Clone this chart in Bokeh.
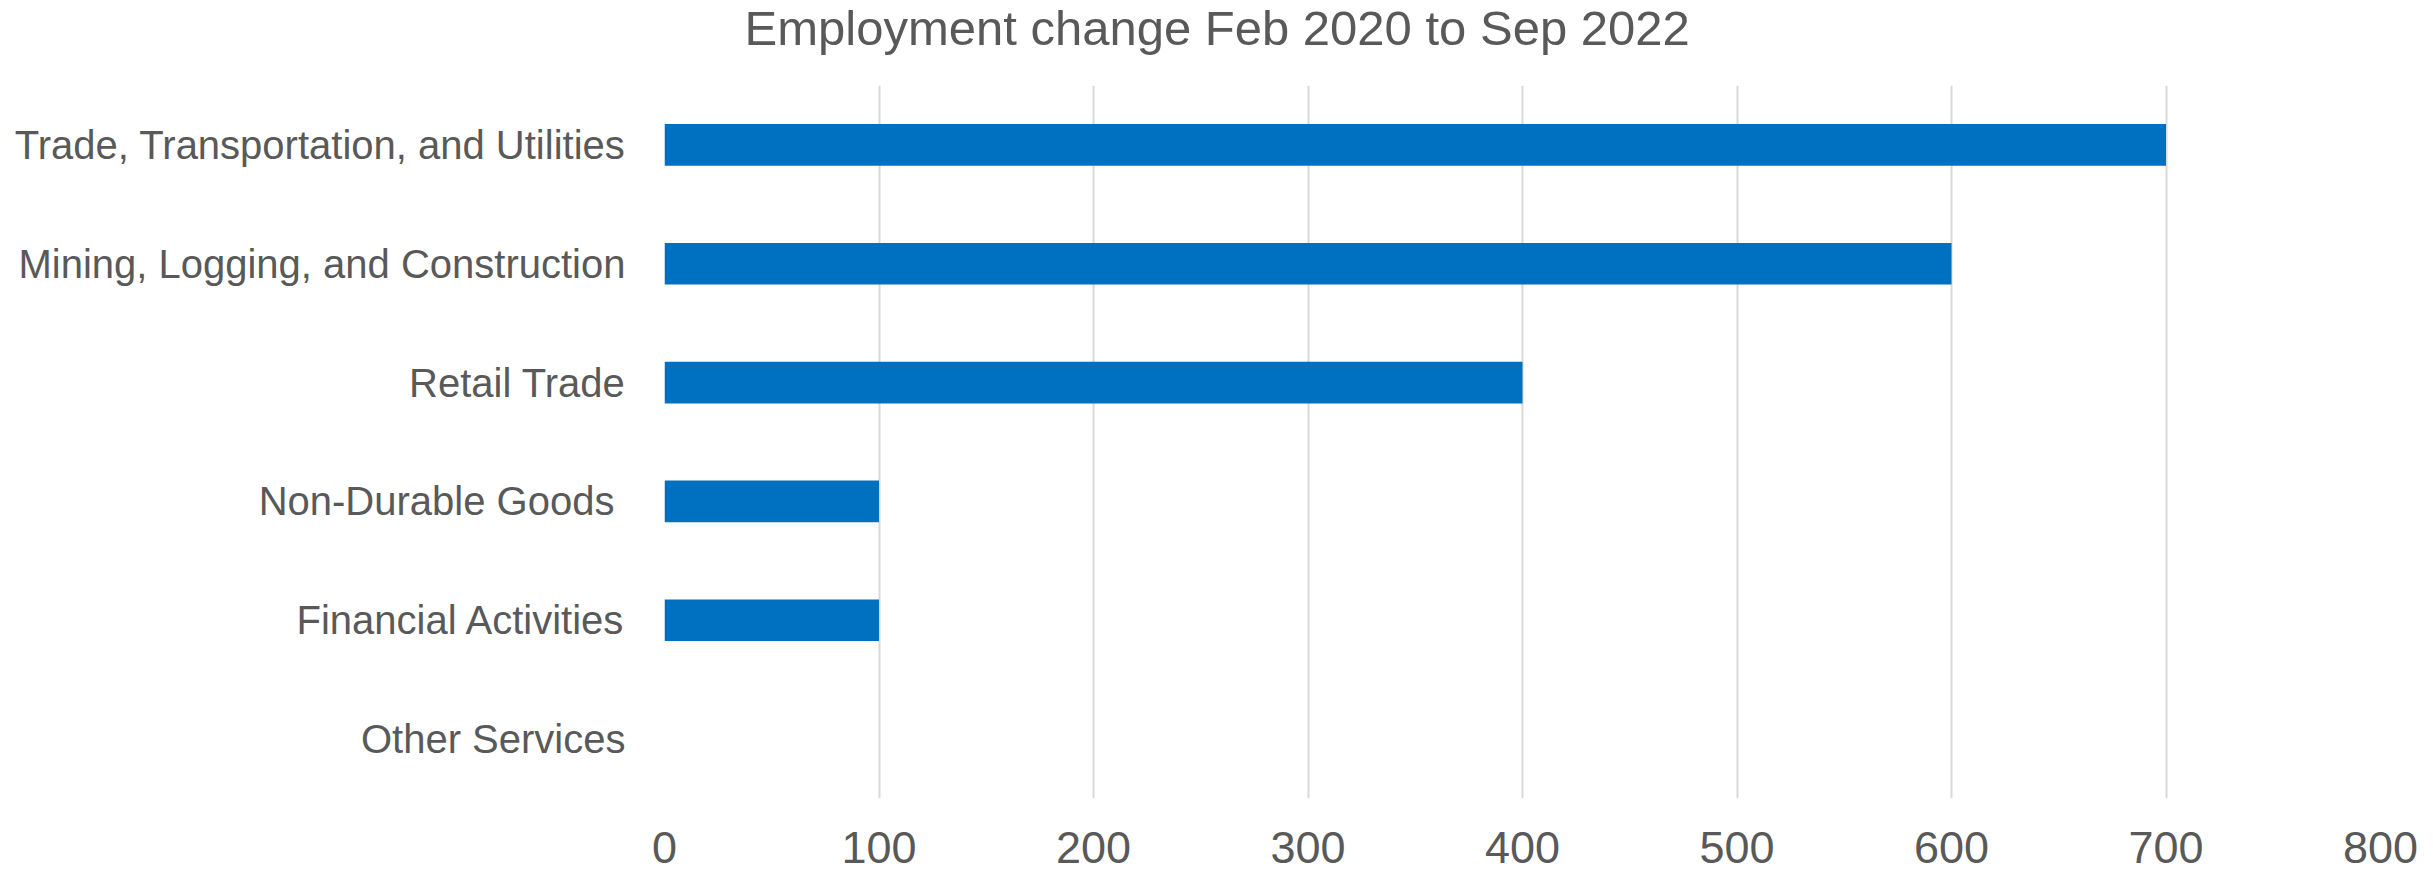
from bokeh.plotting import figure
from bokeh.models import Range1d, FactorRange, Title
from bokeh.embed import file_html
from bokeh.resources import INLINE

categories = [
    "Trade, Transportation, and Utilities",
    "Mining, Logging, and Construction",
    "Retail Trade",
    "Non-Durable Goods ",
    "Financial Activities",
    "Other Services",
]
values = [700, 600, 400, 100, 100, 0]
x_ticks = [0, 100, 200, 300, 400, 500, 600, 700, 800]
title_text = "Employment change Feb 2020 to Sep 2022"

TEXT = "#595959"
BAR = "#0070C0"
GRID = "#d9d9d9"

p = figure(
    width=2433, height=872,
    y_range=FactorRange(factors=list(reversed(categories)), range_padding=0),
    x_range=Range1d(0, 800),
    output_backend="svg", toolbar_location=None,
    min_border_left=664, min_border_right=53, min_border_top=0, min_border_bottom=74,
)
p.hbar(y=categories, right=values, left=0, height=0.35, color=BAR, line_color=None)

# spacer between title and plot area (no visible text)
spacer = Title(text=" ", text_font_size="10px", standoff=16)
p.add_layout(spacer, "above")
title = Title(
    text=title_text, align="left", offset=80, standoff=0, vertical_align="top",
    text_font="Liberation Sans", text_font_size="49px", text_font_style="normal",
    text_color=TEXT,
)
p.add_layout(title, "above")

p.outline_line_color = None
p.background_fill_color = "white"
p.border_fill_color = "white"

p.xgrid.grid_line_color = GRID
p.xgrid.grid_line_width = 2
p.xgrid.ticker = x_ticks
p.ygrid.grid_line_color = None

p.xaxis.ticker = x_ticks
p.xaxis.axis_line_color = None
p.xaxis.major_tick_line_color = None
p.xaxis.minor_tick_line_color = None
p.xaxis.major_tick_out = 0
p.xaxis.major_tick_in = 0
p.xaxis.major_label_standoff = 33
p.xaxis.major_label_text_font = "Liberation Sans"
p.xaxis.major_label_text_font_size = "45px"
p.xaxis.major_label_text_color = TEXT

p.yaxis.axis_line_color = None
p.yaxis.major_tick_line_color = None
p.yaxis.minor_tick_line_color = None
p.yaxis.major_tick_out = 0
p.yaxis.major_tick_in = 0
p.yaxis.major_label_standoff = 39
p.yaxis.major_label_text_font = "Liberation Sans"
p.yaxis.major_label_text_font_size = "40px"
p.yaxis.major_label_text_color = TEXT

open("out.html", "w").write(file_html(p, INLINE))
